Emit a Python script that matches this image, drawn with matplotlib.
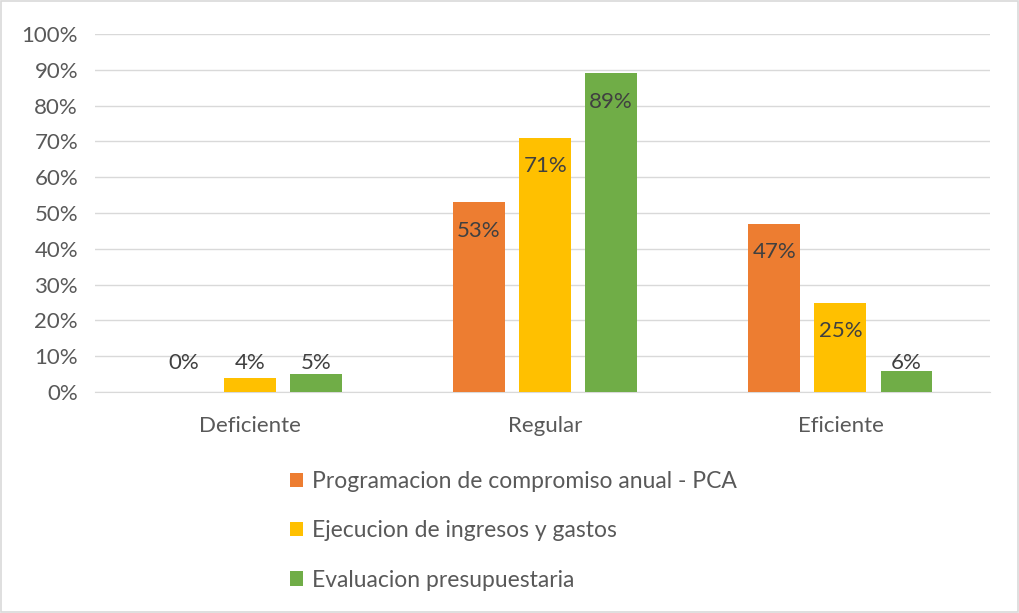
import matplotlib.pyplot as plt
import matplotlib.patches as mpatches
import numpy as np

plt.rcParams['font.family'] = ['Lato', 'DejaVu Sans']

categories = ['Deficiente', 'Regular', 'Eficiente']
series = ['Programacion de compromiso anual - PCA',
          'Ejecucion de ingresos y gastos',
          'Evaluacion presupuestaria']
pca = [0, 53, 47]
ejecucion = [4, 71, 25]
evaluacion = [5, 89, 6]
yticks = list(range(0, 101, 10))

colors = ['#ED7D31', '#FFC000', '#70AD47']
txt = '#595959'
fs = 16

fig = plt.figure(figsize=(10.19, 6.13), dpi=100)
ax = fig.add_axes([0.093, 0.3605, 0.879, 0.584])

x = np.arange(len(categories))
w = 0.176
off = 0.2237
for i, (vals, c, lab) in enumerate(zip([pca, ejecucion, evaluacion], colors, series)):
    xs = x + (i - 1) * off
    ax.bar(xs, vals, width=w, color=c, label=lab, zorder=3)
    for xi, v in zip(xs, vals):
        ax.text(xi, max(v - 8, 8), f'{v}%', ha='center', va='center',
                fontsize=fs, color='#404040', zorder=4)

ax.set_xlim(-0.525, 2.508)
ax.set_ylim(0, 100)
ax.set_yticks(yticks)
ax.set_yticklabels([f'{t}%' for t in yticks])
ax.set_xticks(x)
ax.set_xticklabels(categories)
ax.tick_params(axis='both', length=0, labelsize=fs, colors=txt)
ax.tick_params(axis='y', pad=12)
ax.tick_params(axis='x', pad=17)
ax.grid(axis='y', color='#d9d9d9', linewidth=1, zorder=0)
for s in ['top', 'right', 'left']:
    ax.spines[s].set_visible(False)
ax.spines['bottom'].set_color('#d9d9d9')

fig.legend(loc='upper left', bbox_to_anchor=(0.2846, 0.232), frameon=False,
           fontsize=16.5, handlelength=0.58, handleheight=0.58, handletextpad=0.38,
           labelspacing=1.24, labelcolor=txt, borderaxespad=0, borderpad=0)

fig.patches.append(mpatches.Rectangle((0.001, 0.002), 0.998, 0.996, transform=fig.transFigure,
                                      fill=False, edgecolor='#d9d9d9', linewidth=1.2))

fig.savefig('out.png', dpi=100)
